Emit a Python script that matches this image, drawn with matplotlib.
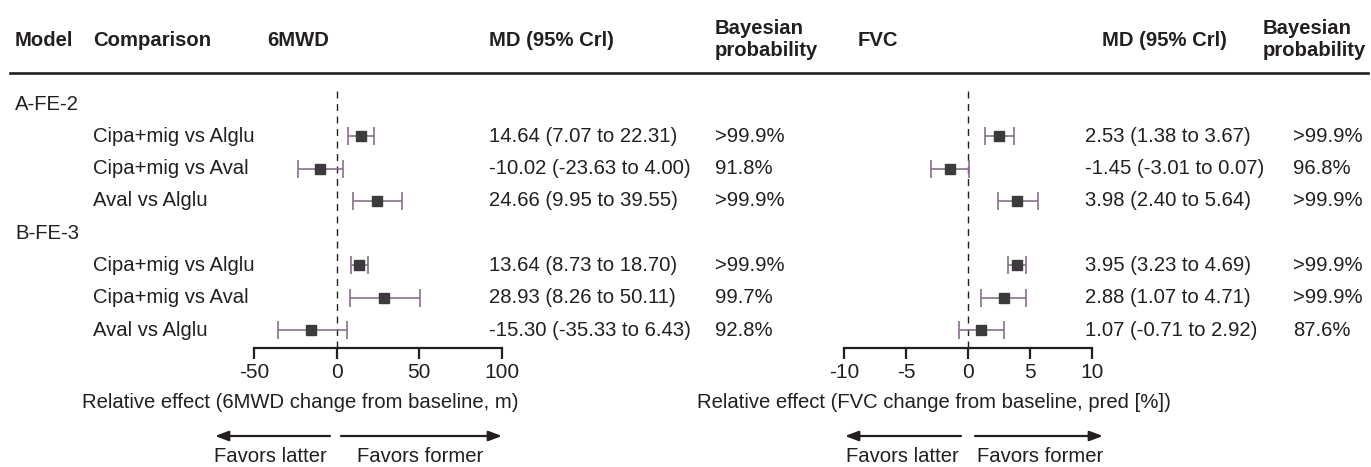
import numpy as np
import matplotlib
matplotlib.use("Agg")
from matplotlib import pyplot as plt

plt.rcParams['font.family'] = ['Liberation Sans', 'DejaVu Sans']

# data
models = ['A-FE-2', 'B-FE-3']
comparisons = ['Cipa+mig vs Alglu', 'Cipa+mig vs Aval', 'Aval vs Alglu',
               'Cipa+mig vs Alglu', 'Cipa+mig vs Aval', 'Aval vs Alglu']
mwd_md = [14.64, -10.02, 24.66, 13.64, 28.93, -15.30]
mwd_lo = [7.07, -23.63, 9.95, 8.73, 8.26, -35.33]
mwd_hi = [22.31, 4.00, 39.55, 18.70, 50.11, 6.43]
mwd_prob = ['>99.9%', '91.8%', '>99.9%', '>99.9%', '99.7%', '92.8%']
fvc_md = [2.53, -1.45, 3.98, 3.95, 2.88, 1.07]
fvc_lo = [1.38, -3.01, 2.40, 3.23, 1.07, -0.71]
fvc_hi = [3.67, 0.07, 5.64, 4.69, 4.71, 2.92]
fvc_prob = ['>99.9%', '96.8%', '>99.9%', '>99.9%', '>99.9%', '87.6%']
mwd_ticks = [-50, 0, 50, 100]
fvc_ticks = [-10, -5, 0, 5, 10]

W, H = 1371, 467
txt_c = '#231f20'
bar_c = '#8a6f8e'
box_c = '#3b3b3b'
fs = 14.6

fig = plt.figure(figsize=(W / 100, H / 100), dpi=100)


def put(x, y, s, **kw):
    kw.setdefault('fontsize', fs)
    kw.setdefault('color', txt_c)
    kw.setdefault('va', 'center')
    fig.text(x / W, 1 - y / H, s, **kw)


# row layout: model label rows and comparison rows
row_step = 32.3
row0 = 104
model_rows = [0, 4]
comp_rows = [1, 2, 3, 5, 6, 7]


def row_y(i):
    return row0 + row_step * i


# header
hdr = dict(fontweight='bold')
put(15, 40, 'Model', **hdr)
put(93, 40, 'Comparison', **hdr)
put(267, 40, '6MWD', **hdr)
put(489, 40, 'MD (95% Crl)', **hdr)
put(715, 40, 'Bayesian\nprobability', linespacing=1.2, **hdr)
put(858, 40, 'FVC', **hdr)
put(1102, 40, 'MD (95% Crl)', **hdr)
put(1263, 40, 'Bayesian\nprobability', linespacing=1.2, **hdr)
fig.add_artist(plt.Line2D([10 / W, 1368 / W], [1 - 73 / H, 1 - 73 / H],
                          color=txt_c, lw=1.9))

for m, r in zip(models, model_rows):
    put(15, row_y(r), m)

for i, r in enumerate(comp_rows):
    y = row_y(r)
    put(93, y, comparisons[i])
    put(489, y, f'{mwd_md[i]:.2f} ({mwd_lo[i]:.2f} to {mwd_hi[i]:.2f})')
    put(715, y, mwd_prob[i])
    put(1085, y, f'{fvc_md[i]:.2f} ({fvc_lo[i]:.2f} to {fvc_hi[i]:.2f})')
    put(1293, y, fvc_prob[i])


def forest(x0, x1, lims, ticks, md, lo, hi):
    top, bot = 88, 348
    ax = fig.add_axes([x0 / W, 1 - bot / H, (x1 - x0) / W, (bot - top) / H])
    ax.set_xlim(*lims)
    ax.set_ylim((bot - row0) / row_step, (top - row0) / row_step)
    md = np.array(md)
    err = np.vstack([md - np.array(lo), np.array(hi) - md])
    ax.errorbar(md, comp_rows, xerr=err, fmt='none', ecolor=bar_c,
                elinewidth=1.2, capsize=6.2, capthick=1.2, zorder=2)
    ax.plot(md, comp_rows, 's', color=box_c, ms=6.6, zorder=3)
    ax.axvline(0, color=txt_c, lw=1.0, ls=(0, (5, 4)), zorder=1)
    for s in ['top', 'left', 'right']:
        ax.spines[s].set_visible(False)
    ax.spines['bottom'].set_linewidth(1.6)
    ax.spines['bottom'].set_color(txt_c)
    ax.set_xticks(ticks)
    ax.set_xticklabels([str(t) for t in ticks])
    ax.tick_params(axis='x', direction='out', length=8, width=1.6,
                   color=txt_c, labelsize=15, labelcolor=txt_c, pad=3)
    ax.set_yticks([])
    ax.patch.set_visible(False)
    return ax


forest(254, 502, (-50, 100), mwd_ticks, mwd_md, mwd_lo, mwd_hi)
forest(844, 1092, (-10, 10), fvc_ticks, fvc_md, fvc_lo, fvc_hi)

put(82, 402, 'Relative effect (6MWD change from baseline, m)')
put(697, 402, 'Relative effect (FVC change from baseline, pred [%])')


def arrow(xa, xb, y):
    fig.add_artist(matplotlib.patches.FancyArrowPatch(
        (xa / W, 1 - y / H), (xb / W, 1 - y / H), transform=fig.transFigure,
        arrowstyle='-|>,head_length=8,head_width=3', color=txt_c, lw=1.6,
        shrinkA=0, shrinkB=0))


arrow(330, 215, 436)
arrow(341, 502, 436)
arrow(961, 845, 436)
arrow(975, 1103, 436)
put(270, 457, 'Favors latter', ha='center')
put(420, 457, 'Favors former', ha='center')
put(902, 457, 'Favors latter', ha='center')
put(1040, 457, 'Favors former', ha='center')

fig.savefig('out.png', dpi=100)
